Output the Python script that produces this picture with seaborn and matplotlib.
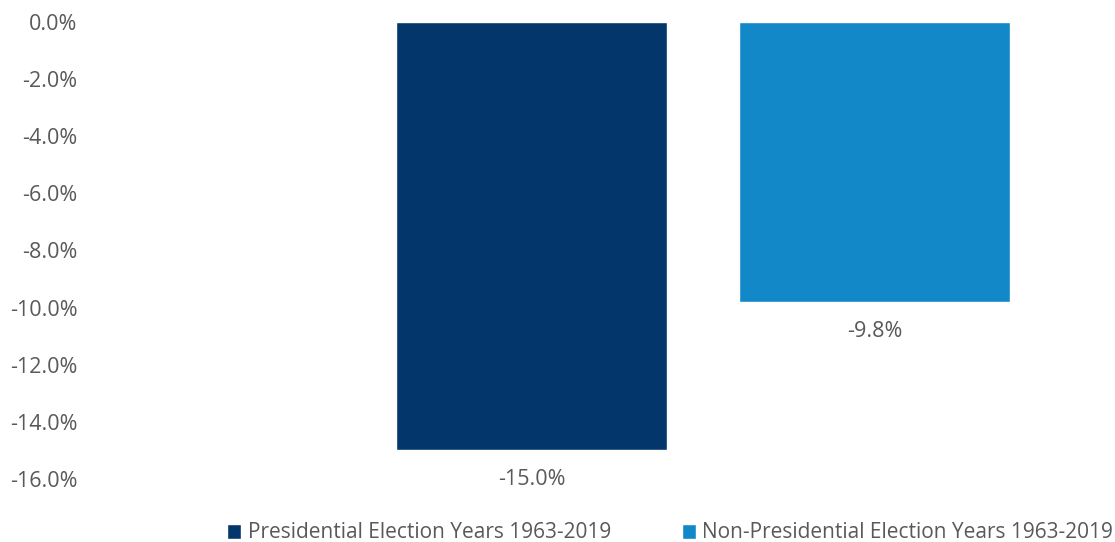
import pandas as pd
import numpy as np
import matplotlib
matplotlib.use('Agg')
import matplotlib.pyplot as plt
import seaborn as sns

# data
periodo = ['1963-2019']
series = ['Presidential Election Years 1963-2019', 'Non-Presidential Election Years 1963-2019']
valores = [-15.0, -9.8]
colores = ['#03376B', '#1288C9']

df = pd.DataFrame({'periodo': periodo * 2, 'serie': series, 'valor': valores})

sns.set_theme(style='white')
plt.rcParams['font.family'] = ['Open Sans', 'DejaVu Sans']
gris = '#595959'

fig = plt.figure(figsize=(11.15, 5.42), dpi=100)
ax = fig.add_axes([90 / 1115, 1 - 479 / 542, 1 - 90 / 1115, (479 - 22) / 542])

sns.barplot(data=df, x='periodo', y='valor', hue='serie', palette=colores,
            gap=0.21, width=0.8, saturation=1, ax=ax)

for c in ax.containers:
    ax.bar_label(c, fmt='%.1f%%', padding=13.5, color=gris, fontsize=15.5)

ax.set_ylim(-16, 0)
ax.set_yticks(np.arange(-16, 0.1, 2))
ax.set_yticklabels(['%.1f%%' % v for v in np.arange(-16, 0.1, 2)])
ax.set_xlim(-0.7145, 0.480)
ax.set_xticks([])
ax.set_xlabel('')
ax.set_ylabel('')
ax.tick_params(axis='y', length=0, pad=9, labelsize=15.5, labelcolor=gris)
sns.despine(ax=ax, left=True, bottom=True)

sns.move_legend(ax, 'center', bbox_to_anchor=(670 / 1115, 1 - 533 / 542),
                bbox_transform=fig.transFigure, ncol=2, frameon=False, title=None,
                fontsize=15, handlelength=0.7, handleheight=0.7,
                handletextpad=0.3, columnspacing=3.4, labelcolor=gris)

fig.savefig('out.png', dpi=100)
